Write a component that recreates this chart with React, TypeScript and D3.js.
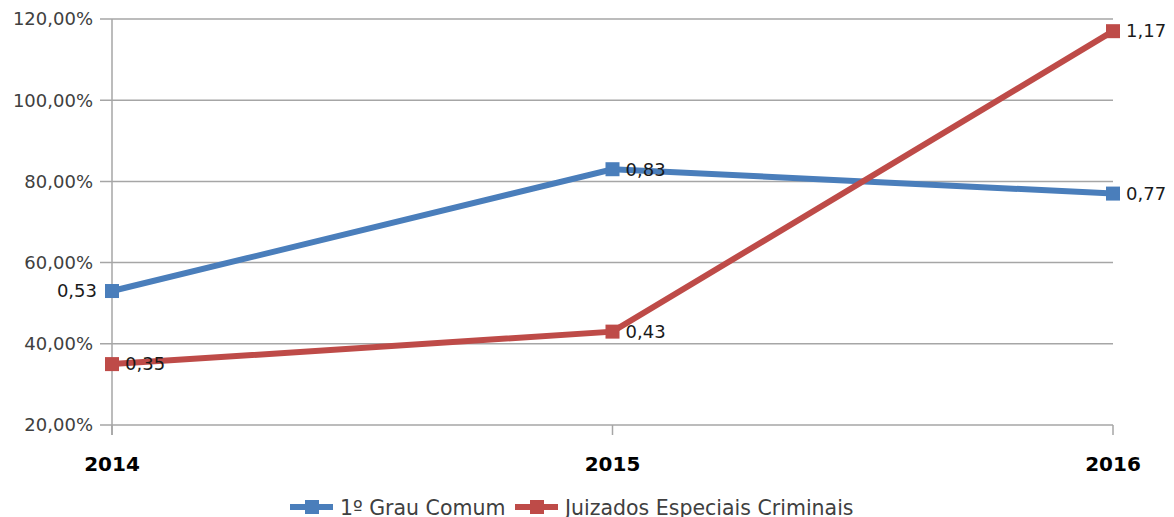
import React from "react";
import * as d3 from "d3";

const years = ["2014", "2015", "2016"];
const grauComum = [0.53, 0.83, 0.77];
const juizados = [0.35, 0.43, 1.17];
const yTicks = [0.2, 0.4, 0.6, 0.8, 1.0, 1.2];
const seriesNames = ["1º Grau Comum", "Juizados Especiais Criminais"];

const W = 1174;
const H = 517;
const BLUE = "#4a7ebb";
const RED = "#be4b48";
const GRID = "#a6a6a6";
const FONT = "'DejaVu Sans', sans-serif";

export default function App() {
  const x = d3.scalePoint<string>().domain(years).range([112, 1113]);
  const y = d3.scaleLinear().domain([0.2, 1.2]).range([425, 19]);
  const line = d3
    .line<number>()
    .x((_, i) => x(years[i]) as number)
    .y((d) => y(d));
  const fmtTick = (v: number) => (v * 100).toFixed(2).replace(".", ",") + "%";
  const fmtVal = (v: number) => v.toFixed(2).replace(".", ",");

  const series = [
    { name: seriesNames[0], data: grauComum, color: BLUE },
    { name: seriesNames[1], data: juizados, color: RED },
  ];

  const labelLeft = (si: number, i: number) => si === 0 && i === 0;

  return (
    <svg
      width={W}
      height={H}
      style={{ position: "absolute", left: 0, top: 0, background: "#fff" }}
    >
      {yTicks.map((t) => (
        <g key={t}>
          <line x1={100} x2={1113} y1={y(t)} y2={y(t)} stroke={GRID} strokeWidth={1.5} />
          <text
            x={93}
            y={y(t)}
            dy="0.35em"
            textAnchor="end"
            fontFamily={FONT}
            fontSize={18}
            fill="#404040"
          >
            {fmtTick(t)}
          </text>
        </g>
      ))}
      <line x1={112} x2={112} y1={19} y2={435} stroke={GRID} strokeWidth={1.5} />
      {years.map((yr) => (
        <g key={yr}>
          <line x1={x(yr)} x2={x(yr)} y1={425} y2={435} stroke={GRID} strokeWidth={1.5} />
          <text
            x={x(yr)}
            y={471}
            textAnchor="middle"
            fontFamily={FONT}
            fontWeight="bold"
            fontSize={20}
            fill="#000"
          >
            {yr}
          </text>
        </g>
      ))}
      {series.map((s) => (
        <g key={s.name}>
          <path d={line(s.data) as string} fill="none" stroke={s.color} strokeWidth={6} />
          {s.data.map((v, i) => (
            <rect
              key={i}
              x={(x(years[i]) as number) - 7}
              y={y(v) - 7}
              width={14}
              height={14}
              fill={s.color}
            />
          ))}
        </g>
      ))}
      {series.map((s, si) =>
        s.data.map((v, i) => {
          const left = labelLeft(si, i);
          return (
            <text
              key={`${si}-${i}`}
              x={(x(years[i]) as number) + (left ? -15 : 13)}
              y={y(v)}
              dy="0.35em"
              textAnchor={left ? "end" : "start"}
              fontFamily={FONT}
              fontSize={18}
              fill="#1a1a1a"
            >
              {fmtVal(v)}
            </text>
          );
        })
      )}
      <g>
        <line x1={290} x2={333} y1={507} y2={507} stroke={BLUE} strokeWidth={6} />
        <rect x={305} y={500} width={14} height={14} fill={BLUE} />
        <text x={340} y={508} dy="0.35em" fontFamily={FONT} fontSize={20.5} fill="#404040">
          {seriesNames[0]}
        </text>
        <line x1={515} x2={558} y1={507} y2={507} stroke={RED} strokeWidth={6} />
        <rect x={530} y={500} width={14} height={14} fill={RED} />
        <text x={565} y={508} dy="0.35em" fontFamily={FONT} fontSize={20.5} fill="#404040">
          {seriesNames[1]}
        </text>
      </g>
    </svg>
  );
}
